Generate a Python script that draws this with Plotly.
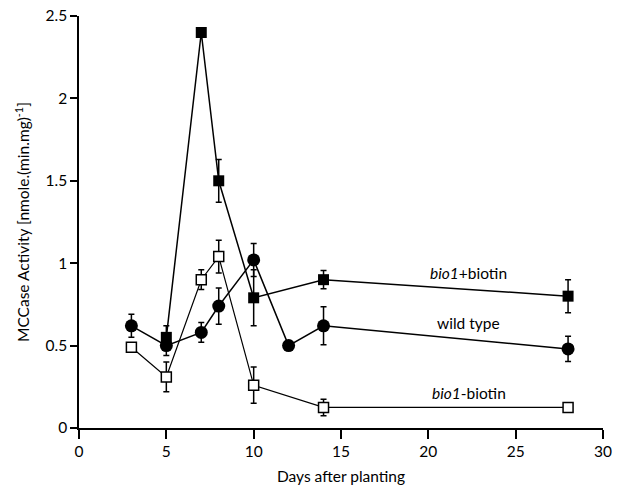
import plotly.graph_objects as go

# Data
days_plus = [5, 7, 8, 10, 14, 28]
bio1_plus = [0.55, 2.40, 1.50, 0.79, 0.90, 0.80]
bio1_plus_err = [0.07, 0.0, 0.13, 0.17, 0.055, 0.10]

days_wt = [3, 5, 7, 8, 10, 12, 14, 28]
wild_type = [0.62, 0.50, 0.58, 0.74, 1.02, 0.50, 0.62, 0.48]
wild_type_err = [0.07, 0.06, 0.06, 0.11, 0.10, 0.0, 0.115, 0.077]

days_minus = [3, 5, 7, 8, 10, 14, 28]
bio1_minus = [0.49, 0.31, 0.90, 1.04, 0.26, 0.125, 0.125]
bio1_minus_err = [0.0, 0.09, 0.06, 0.10, 0.11, 0.05, 0.0]

labels = ["<i>bio1</i>+biotin", "wild type", "<i>bio1</i>-biotin"]
label_x = [22.3, 22.3, 22.3]
label_y = [0.94, 0.64, 0.21]

x_ticks = [0, 5, 10, 15, 20, 25, 30]
y_ticks = [0, 0.5, 1, 1.5, 2, 2.5]

FONT = "Lato"
FS = 15.5

fig = go.Figure()

err_style = dict(type="data", visible=True, color="black", thickness=1.5, width=3)

fig.add_trace(go.Scatter(
    x=days_plus, y=bio1_plus, mode="lines+markers",
    line=dict(color="black", width=1.5),
    marker=dict(symbol="square", size=11, color="black", line=dict(color="black", width=0)),
    error_y=dict(array=bio1_plus_err, **err_style),
    showlegend=False,
))
fig.add_trace(go.Scatter(
    x=days_wt, y=wild_type, mode="lines+markers",
    line=dict(color="black", width=1.5),
    marker=dict(symbol="circle", size=13, color="black", line=dict(color="black", width=0)),
    error_y=dict(array=wild_type_err, **err_style),
    showlegend=False,
))
fig.add_trace(go.Scatter(
    x=days_minus, y=bio1_minus, mode="lines+markers",
    line=dict(color="black", width=1.2),
    marker=dict(symbol="square", size=10, color="white", line=dict(color="black", width=1.5)),
    error_y=dict(array=bio1_minus_err, **err_style),
    showlegend=False,
))

for t, xx, yy in zip(labels, label_x, label_y):
    fig.add_annotation(x=xx, y=yy, text=t, showarrow=False,
                       font=dict(family=FONT, size=FS, color="black"),
                       xanchor="center", yanchor="middle")

fig.update_layout(
    width=619, height=492,
    margin=dict(l=79, r=16, t=16, b=64, autoexpand=False),
    paper_bgcolor="white", plot_bgcolor="white",
    font=dict(family=FONT, size=FS, color="black"),
    xaxis=dict(
        range=[0, 30], tickvals=x_ticks, showgrid=False, zeroline=False,
        showline=True, linecolor="black", linewidth=1.5, automargin=False,
        ticks="outside", ticklen=9, tickwidth=1.5, tickcolor="black",
        title=dict(text="Days after planting", font=dict(family=FONT, size=FS), standoff=12),
        tickfont=dict(family=FONT, size=FS),
    ),
    yaxis=dict(
        range=[0, 2.5], tickvals=y_ticks, showgrid=False, zeroline=False,
        showline=True, linecolor="black", linewidth=1.5, automargin=False,
        ticks="outside", ticklen=7, tickwidth=1.5, tickcolor="black",
        title=dict(text="MCCase Activity [nmole.(min.mg)<sup>-1</sup>]",
                   font=dict(family=FONT, size=FS), standoff=12),
        tickfont=dict(family=FONT, size=FS),
    ),
)

fig.write_html("out.html",
               config={"displayModeBar": False},
               post_script="document.body.style.margin='0';document.body.style.padding='0';")
